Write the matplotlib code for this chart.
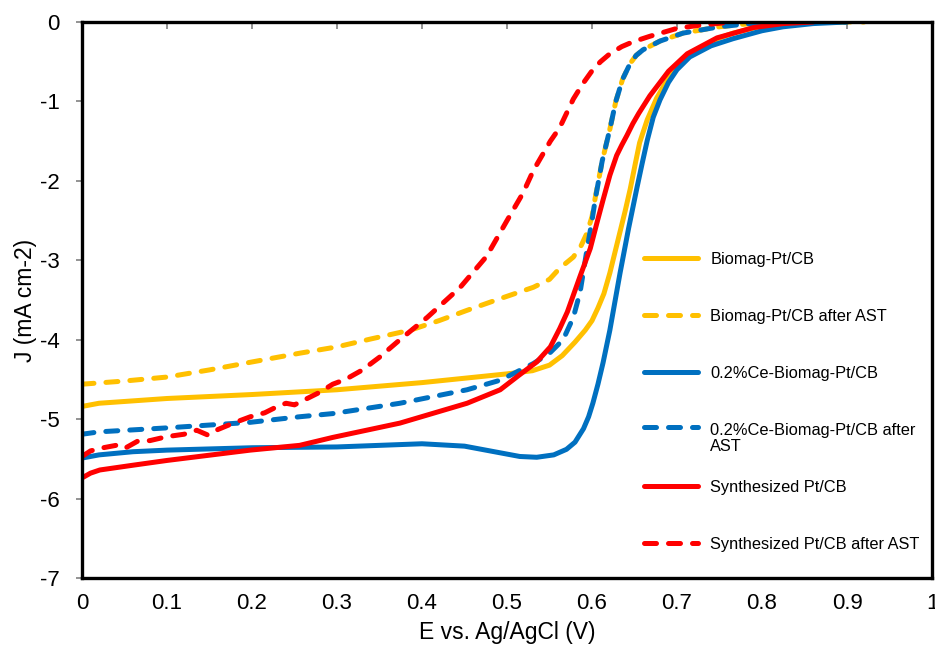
import numpy as np
import matplotlib

matplotlib.use("Agg")
import matplotlib.pyplot as plt

plt.rcParams["font.family"] = ["Liberation Sans", "DejaVu Sans"]
plt.rcParams["axes.unicode_minus"] = False

# LSV curves, E (V vs Ag/AgCl) and J (mA cm-2)
biomag_E = [0, 0.02, 0.1, 0.2, 0.3, 0.4, 0.5, 0.53, 0.55, 0.565, 0.58, 0.592, 0.6, 0.607,
            0.614, 0.621, 0.627, 0.633, 0.639, 0.645, 0.651, 0.656, 0.665, 0.676, 0.69,
            0.707, 0.72, 0.735, 0.75, 0.766, 0.8, 0.85, 0.9]
biomag_J = [-4.84, -4.80, -4.74, -4.69, -4.63, -4.54, -4.43, -4.39, -4.32, -4.20, -4.03,
            -3.88, -3.76, -3.60, -3.42, -3.16, -2.90, -2.64, -2.38, -2.10, -1.78, -1.52,
            -1.23, -0.96, -0.70, -0.49, -0.38, -0.28, -0.20, -0.14, -0.05, -0.01, 0]

biomag_ast_E = [0, 0.05, 0.1, 0.15, 0.2, 0.256, 0.3, 0.34, 0.386, 0.42, 0.453, 0.49, 0.531,
                0.55, 0.562, 0.578, 0.587, 0.594, 0.6, 0.604, 0.612, 0.621, 0.628, 0.636,
                0.645, 0.652, 0.66, 0.68, 0.707, 0.75, 0.786, 0.85, 0.92]
biomag_ast_J = [-4.56, -4.52, -4.47, -4.38, -4.28, -4.17, -4.09, -3.99, -3.88, -3.76, -3.63,
                -3.49, -3.34, -3.24, -3.10, -2.96, -2.82, -2.66, -2.45, -2.20, -1.75, -1.35,
                -1.00, -0.72, -0.52, -0.42, -0.35, -0.24, -0.14, -0.06, -0.02, 0, 0]

ce_E = [0, 0.02, 0.06, 0.1, 0.2, 0.3, 0.4, 0.45, 0.49, 0.515, 0.535, 0.555, 0.57, 0.58,
        0.59, 0.596, 0.601, 0.607, 0.613, 0.621, 0.627, 0.633, 0.643, 0.653, 0.659, 0.665,
        0.672, 0.68, 0.69, 0.7, 0.715, 0.74, 0.766, 0.8, 0.825, 0.86, 0.9]
ce_J = [-5.49, -5.45, -5.41, -5.39, -5.36, -5.35, -5.31, -5.34, -5.42, -5.47, -5.48, -5.45,
        -5.38, -5.29, -5.12, -4.97, -4.80, -4.56, -4.29, -3.88, -3.52, -3.16, -2.60, -2.08,
        -1.78, -1.49, -1.20, -0.98, -0.76, -0.60, -0.44, -0.30, -0.21, -0.11, -0.06,
        -0.02, 0]

ce_ast_E = [0, 0.02, 0.1, 0.198, 0.256, 0.295, 0.374, 0.453, 0.492, 0.531, 0.55, 0.566,
            0.578, 0.586, 0.594, 0.6, 0.604, 0.612, 0.621, 0.628, 0.636, 0.645, 0.652,
            0.66, 0.68, 0.707, 0.75, 0.786, 0.85, 0.9]
ce_ast_J = [-5.19, -5.16, -5.11, -5.04, -4.97, -4.93, -4.80, -4.63, -4.51, -4.30, -4.17,
            -4.00, -3.72, -3.40, -2.87, -2.50, -2.22, -1.75, -1.35, -1.00, -0.72, -0.52,
            -0.42, -0.35, -0.24, -0.14, -0.06, -0.02, 0, 0]

synth_E = [0, 0.01, 0.021, 0.06, 0.1, 0.198, 0.256, 0.295, 0.374, 0.453, 0.492, 0.515,
           0.535, 0.551, 0.562, 0.571, 0.586, 0.598, 0.606, 0.613, 0.621, 0.629, 0.635,
           0.641, 0.648, 0.655, 0.668, 0.69, 0.712, 0.747, 0.79, 0.825, 0.86]
synth_J = [-5.74, -5.68, -5.64, -5.58, -5.52, -5.39, -5.33, -5.23, -5.05, -4.80, -4.63,
           -4.44, -4.28, -4.09, -3.86, -3.65, -3.20, -2.85, -2.52, -2.24, -1.93, -1.68,
           -1.55, -1.43, -1.28, -1.15, -0.93, -0.62, -0.40, -0.20, -0.07, -0.02, 0]

synth_ast_E = [0, 0.01, 0.025, 0.04, 0.05, 0.065, 0.08, 0.1, 0.12, 0.135, 0.148, 0.16,
               0.178, 0.198, 0.215, 0.23, 0.24, 0.25, 0.265, 0.28, 0.295, 0.31, 0.33,
               0.35, 0.374, 0.406, 0.445, 0.476, 0.5, 0.519, 0.531, 0.551, 0.562, 0.578,
               0.589, 0.601, 0.61, 0.621, 0.635, 0.648, 0.668, 0.7, 0.727, 0.766]
synth_ast_J = [-5.47, -5.40, -5.36, -5.33, -5.37, -5.28, -5.27, -5.22, -5.19, -5.14, -5.20,
               -5.13, -5.05, -4.97, -4.92, -4.84, -4.80, -4.82, -4.74, -4.66, -4.56, -4.50,
               -4.38, -4.22, -4.00, -3.72, -3.34, -2.95, -2.50, -2.15, -1.87, -1.50,
               -1.33, -0.97, -0.78, -0.60, -0.50, -0.40, -0.31, -0.25, -0.18, -0.08,
               -0.04, 0]

labels = ["Biomag-Pt/CB", "Biomag-Pt/CB after AST", "0.2%Ce-Biomag-Pt/CB",
          "0.2%Ce-Biomag-Pt/CB after\nAST", "Synthesized Pt/CB",
          "Synthesized Pt/CB after AST"]

YELLOW, BLUE, RED = "#FFC000", "#0070C0", "#FF0000"
series = [
    (biomag_E, biomag_J, YELLOW, False),
    (biomag_ast_E, biomag_ast_J, YELLOW, True),
    (ce_E, ce_J, BLUE, False),
    (ce_ast_E, ce_ast_J, BLUE, True),
    (synth_E, synth_J, RED, False),
    (synth_ast_E, synth_ast_J, RED, True),
]

LW = 3.6


def style(color, dashed):
    kw = dict(color=color, lw=LW, solid_capstyle="round", solid_joinstyle="round")
    if dashed:
        kw.update(dashes=(2.4, 2.4), dash_capstyle="round", dash_joinstyle="round")
    return kw


fig = plt.figure(figsize=(9.35, 6.49), dpi=100)
ax = fig.add_axes([0.0877, 0.1094, 0.9091, 0.8567])

for E, J, color, dashed in series:
    ax.plot(E, J, **style(color, dashed))

ax.set_xlim(0, 1)
ax.set_ylim(-7, 0)
xt = np.round(np.arange(0, 1.01, 0.1), 1)
ax.set_xticks(xt, ["0" if v == 0 else ("1" if v == 1 else f"{v:.1f}") for v in xt])
ax.set_yticks(range(-7, 1), [str(v) for v in range(-7, 1)])

for sp in ax.spines.values():
    sp.set_color("black")
    sp.set_linewidth(2.4)

ax.tick_params(axis="x", bottom=False, top=True, labelbottom=True, labeltop=False,
               direction="in", length=5, width=1.2, color="#808080",
               labelsize=16, pad=11)
ax.tick_params(axis="y", direction="out", length=4, width=1.2, color="#808080",
               labelsize=16, pad=12)

ax.set_xlabel("E vs. Ag/AgCl (V)", fontsize=16.5, labelpad=5)
ax.set_ylabel("J (mA cm-2)", fontsize=16.5, labelpad=2)

# legend drawn in axes fractions, handle level with the first text line
leg_y = [0.5755, 0.473, 0.3705, 0.2716, 0.1655, 0.063]
line_step = 0.0325  # one text line (12 pt, spacing 1.1) in axes fraction
for (E, J, color, dashed), lab, y in zip(series, labels, leg_y):
    ax.plot([0.661, 0.725], [y, y], transform=ax.transAxes, clip_on=False,
            **style(color, dashed))
    extra = lab.count("\n") * line_step
    ax.text(0.739, y - 0.0108 - extra, lab, transform=ax.transAxes, fontsize=11.8,
            va="baseline", ha="left", linespacing=1.1)

fig.savefig("out.png", dpi=100)
